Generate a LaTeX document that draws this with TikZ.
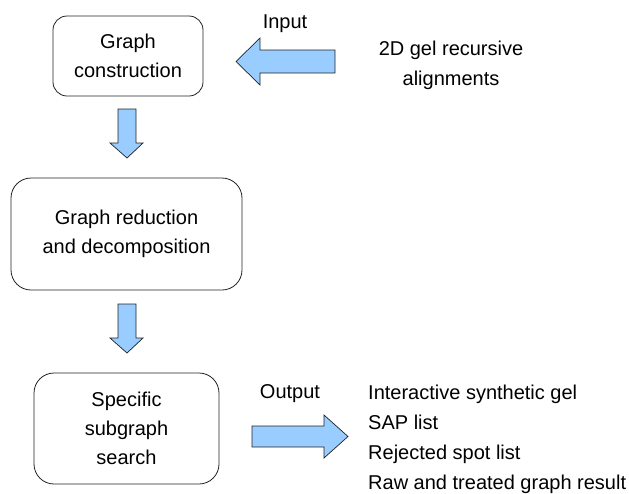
\documentclass[tikz,border=0pt]{standalone}
\usepackage{fontspec}
\setmainfont{Liberation Sans}
\definecolor{arrowblue}{HTML}{99CCFF}
\definecolor{boxline}{HTML}{222222}
\tikzset{
  stepbox/.style={draw=boxline, line width=0.8pt, rounded corners=14pt, align=center},
  blockarrow/.style={draw=boxline, line width=0.7pt, fill=arrowblue},
  txt/.style={align=center, inner sep=0pt}
}
\begin{document}
\begin{tikzpicture}[x=1pt, y=-1pt, font=\fontsize{20}{29}\selectfont]
    \useasboundingbox (0,0) rectangle (629,493);

    % Process boxes
    \node[stepbox, minimum width=150pt, minimum height=80pt] (construct) at (128,56) {Graph\\construction};
    \node[stepbox, minimum width=231pt, minimum height=112pt, rounded corners=20pt] (reduce) at (126.5,234) {Graph reduction\\and decomposition};
    \node[stepbox, minimum width=185pt, minimum height=111pt, rounded corners=20pt] (search) at (126.5,428.5) {Specific\\subgraph\\search};

    % Input side
    \node[txt] (inlabel) at (285,24) {Input};
    \node[txt, font=\fontsize{20}{30}\selectfont] (insrc) at (451,65) {2D gel recursive\\alignments};
    \filldraw[blockarrow] (335,50) -- (260,50) -- (260,38) -- (236,61.5) -- (260,85) -- (260,73) -- (335,73) -- cycle;

    % Down arrows between boxes
    \filldraw[blockarrow] (118,109) -- (136,109) -- (136,143) -- (143,143) -- (127,158) -- (110,143) -- (118,143) -- cycle;
    \filldraw[blockarrow] (118,304) -- (136,304) -- (136,338) -- (143,338) -- (127,353) -- (110,338) -- (118,338) -- cycle;

    % Output side
    \node[txt] (outlabel) at (290,394) {Output};
    \filldraw[blockarrow] (252,426) -- (324,426) -- (324,415) -- (348,436.5) -- (324,458) -- (324,447) -- (252,447) -- cycle;
    \node[txt, align=left, anchor=west, font=\fontsize{20}{30}\selectfont] (outlist) at (368,439) {Interactive synthetic gel\\SAP list\\Rejected spot list\\Raw and treated graph result};
\end{tikzpicture}
\end{document}
